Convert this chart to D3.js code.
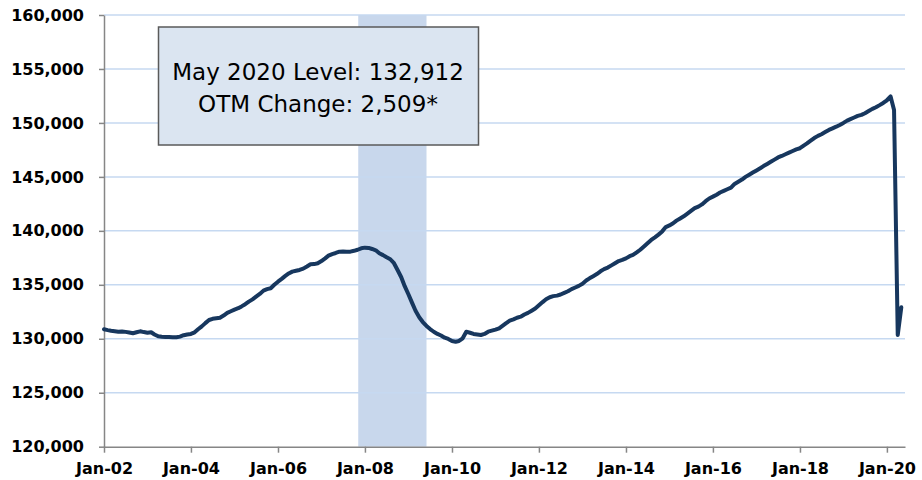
<!DOCTYPE html>
<html>
<head>
<meta charset="utf-8">
<script src="https://cdn.jsdelivr.net/npm/d3@7"></script>
<style>
  body { margin: 0; background: #fff; }
  .tick text { font-family: "DejaVu Sans", Verdana, sans-serif; font-weight: bold; font-size: 16px; fill: #000; }
  .note { font-family: "DejaVu Sans", Tahoma, sans-serif; font-size: 23px; fill: #000; }
</style>
</head>
<body>
<div id="chart"></div>
<script>
// Total nonfarm employment, thousands, monthly from Jan 2002 to May 2020
const startMonth = "2002-01";
const payrolls = [
  130880, 130800, 130740, 130700, 130660, 130680, 130640, 130580, 130510, 130600, 130690, 130620, // 2002
  130560, 130600, 130400, 130230, 130195, 130170, 130160, 130150, 130140, 130200, 130330, 130400, // 2003
  130450, 130600, 130880, 131150, 131450, 131740, 131850, 131900, 131955, 132150, 132400, 132550, // 2004
  132700, 132830, 133000, 133200, 133440, 133650, 133900, 134150, 134460, 134600, 134680, 135000, // 2005
  135290, 135550, 135800, 136050, 136220, 136300, 136376, 136500, 136700, 136904, 136920, 137000, // 2006
  137200, 137450, 137700, 137850, 137950, 138070, 138080, 138060, 138070, 138150, 138250, 138380, // 2007
  138443, 138420, 138320, 138200, 137924, 137750, 137550, 137368, 137000, 136376, 135700, 134850, // 2008
  134100, 133300, 132600, 132000, 131550, 131186, 130900, 130650, 130450, 130300, 130100, 129980, // 2009
  129800, 129731, 129800, 130046, 130658, 130560, 130450, 130400, 130352, 130450, 130658, 130750, // 2010
  130850, 130973, 131200, 131450, 131677, 131800, 131950, 132048, 132250, 132400, 132600, 132800, // 2011
  133100, 133400, 133661, 133850, 133950, 134000, 134100, 134250, 134400, 134600, 134750, 134900, // 2012
  135100, 135400, 135600, 135800, 136000, 136250, 136450, 136600, 136800, 137000, 137200, 137303, // 2013
  137450, 137650, 137766, 138000, 138250, 138550, 138850, 139157, 139400, 139650, 139950, 140350, // 2014
  140500, 140700, 140945, 141150, 141350, 141600, 141850, 142100, 142243, 142450, 142750, 143000, // 2015
  143170, 143350, 143550, 143700, 143850, 144000, 144350, 144550, 144750, 145000, 145200, 145400, // 2016
  145600, 145800, 146000, 146200, 146400, 146600, 146800, 146941, 147100, 147250, 147400, 147550, // 2017
  147655, 147900, 148100, 148350, 148600, 148800, 148950, 149150, 149350, 149500, 149650, 149815, // 2018
  150000, 150213, 150350, 150500, 150650, 150742, 150900, 151100, 151300, 151455, 151650, 151850, // 2019
  152100, 152450, 151200, 130350, 132912                                                          // 2020
];

const xTickLabels = ["Jan-02", "Jan-04", "Jan-06", "Jan-08", "Jan-10", "Jan-12", "Jan-14", "Jan-16", "Jan-18", "Jan-20"];
const yTicks = [120000, 125000, 130000, 135000, 140000, 145000, 150000, 155000, 160000];

// Recession shading (Dec 2007 - Jun 2009)
const recession = ["2007-12", "2009-06"];

const noteLines = ["May 2020 Level: 132,912", "OTM Change: 2,509*"];

const width = 922, height = 480;
const margin = { top: 15, right: 17, bottom: 33, left: 104 };

const parseMonth = d3.timeParse("%Y-%m");
const parseTick = d3.timeParse("%b-%y");
const start = parseMonth(startMonth);

const data = payrolls.map((v, i) => ({ date: d3.timeMonth.offset(start, i), value: v }));

const svg = d3.select("#chart").append("svg")
  .attr("width", width)
  .attr("height", height);

const x = d3.scaleTime()
  .domain([start, d3.timeMonth.offset(start, payrolls.length)])
  .range([margin.left, width - margin.right]);

const y = d3.scaleLinear()
  .domain([120000, 160000])
  .range([height - margin.bottom - 0.3, margin.top]);

// Recession band
svg.append("rect")
  .attr("x", x(parseMonth(recession[0])) - 3)
  .attr("y", y(160000))
  .attr("width", x(parseMonth(recession[1])) - x(parseMonth(recession[0])) + 3)
  .attr("height", y(120000) - y(160000))
  .attr("fill", "#9ab7dc")
  .attr("opacity", 0.55);

// Gridlines
svg.append("g")
  .selectAll("line")
  .data(yTicks.filter(d => d > 120000))
  .enter().append("line")
  .attr("x1", x.range()[0])
  .attr("x2", x.range()[1])
  .attr("y1", d => y(d))
  .attr("y2", d => y(d))
  .attr("stroke", "#c6d9f1")
  .attr("stroke-width", 1.5);

// Y axis
const yAxis = svg.append("g")
  .attr("transform", "translate(" + margin.left + ",0)")
  .call(d3.axisLeft(y).tickValues(yTicks).tickSize(5).tickSizeOuter(0).tickPadding(15).tickFormat(d3.format(",")));

// X axis
const xAxis = svg.append("g")
  .attr("transform", "translate(0," + y(120000) + ")")
  .call(d3.axisBottom(x).tickValues(xTickLabels.map(parseTick)).tickSize(6).tickSizeOuter(0).tickPadding(10).tickFormat(d3.timeFormat("%b-%y")));

[yAxis, xAxis].forEach(a => {
  a.select(".domain").attr("stroke", "#868686").attr("stroke-width", 1.5);
  a.selectAll(".tick line").attr("stroke", "#868686").attr("stroke-width", 1.5);
});

// Payroll line
svg.append("path")
  .datum(data)
  .attr("fill", "none")
  .attr("stroke", "#17375e")
  .attr("stroke-width", 4)
  .attr("stroke-linejoin", "round")
  .attr("stroke-linecap", "round")
  .attr("d", d3.line().x(d => x(d.date)).y(d => y(d.value)));

// Annotation box
const note = svg.append("g");
note.append("rect")
  .attr("x", 158.5)
  .attr("y", 27)
  .attr("width", 320)
  .attr("height", 118)
  .attr("fill", "#dbe5f1")
  .attr("stroke", "#5a5a5a")
  .attr("stroke-width", 1.5);

note.selectAll("text")
  .data(noteLines)
  .enter().append("text")
  .attr("class", "note")
  .attr("x", 318)
  .attr("y", (d, i) => 80 + i * 32)
  .attr("text-anchor", "middle")
  .text(d => d);
</script>
</body>
</html>
